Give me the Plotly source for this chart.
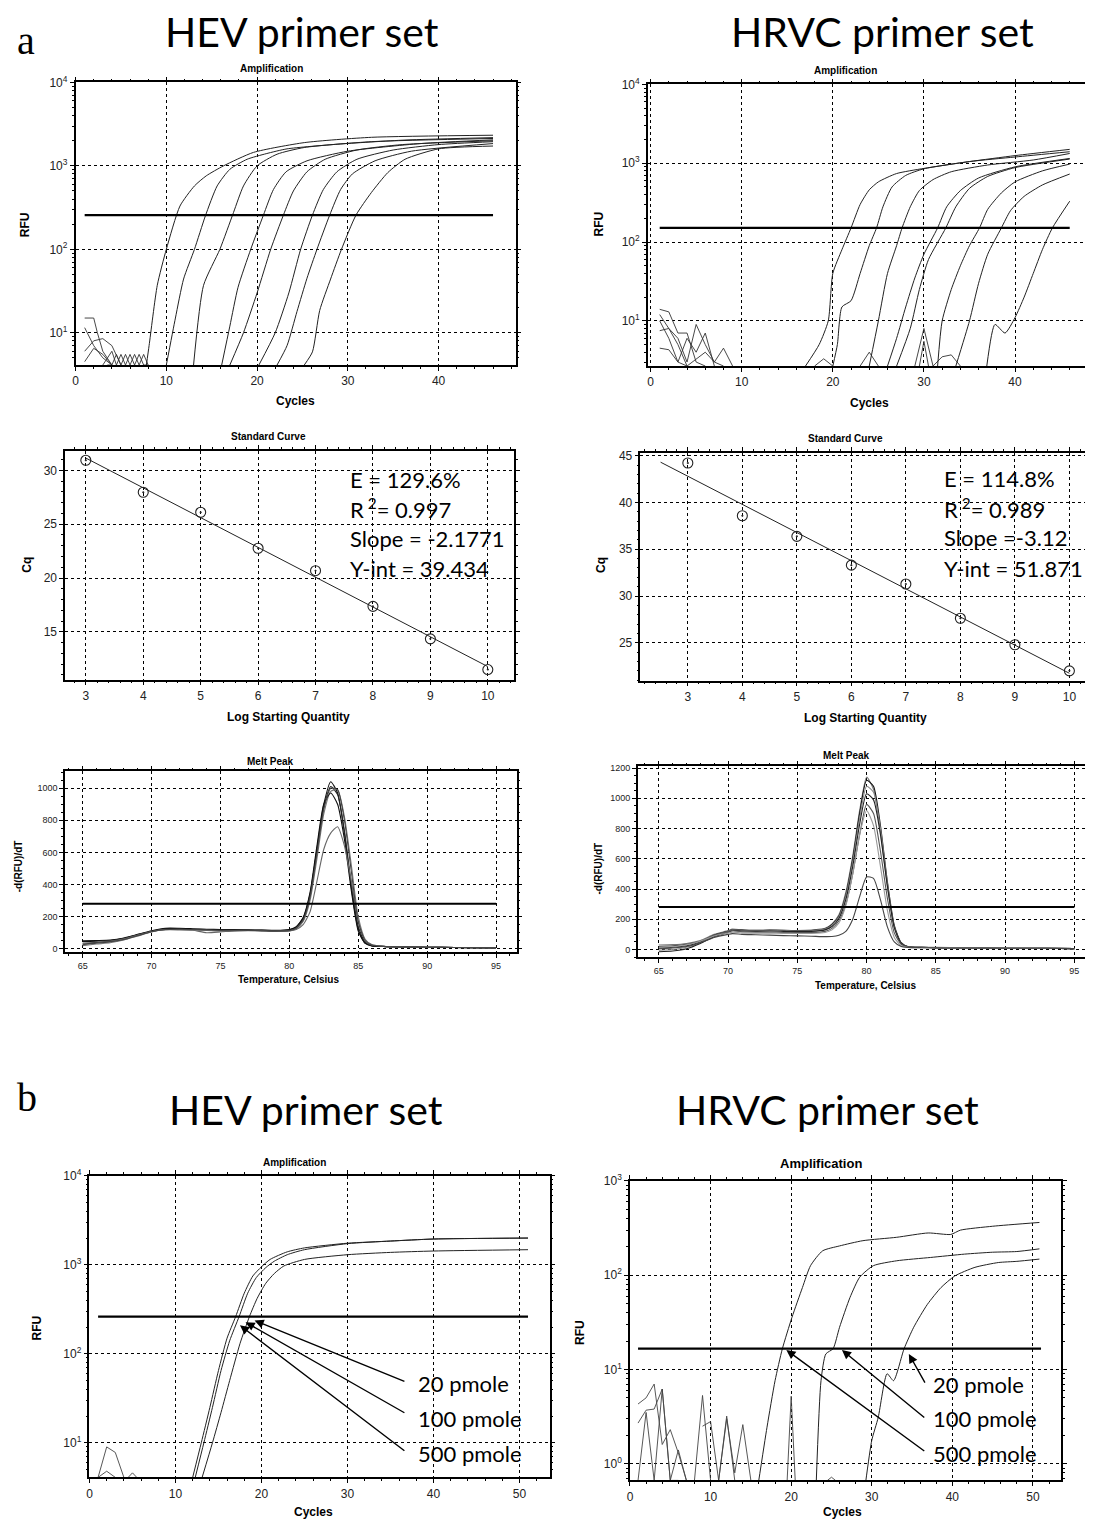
import numpy as np
import plotly.graph_objects as go

W, H = 1093, 1523
OFF = 8  # default page margin of the html body
FW, FH = W - OFF, H - OFF

# ================= DATA =================
# --- Panel a, HEV amplification (cycle, RFU) ---
HEV_A_X = [
    [7.8, 8.1, 9.0, 10.0, 11.5, 13.1, 14.4, 16.3, 19.6, 25.2, 32.6, 46.0],
    [10.0, 11.0, 11.9, 13.1, 14.3, 15.6, 17.0, 18.9, 21.0, 23.3, 28.9, 36.3, 46.0],
    [13.0, 14.1, 15.9, 17.4, 18.5, 20.0, 22.2, 25.2, 32.6, 46.0],
    [16.1, 17.0, 17.9, 19.3, 20.7, 21.8, 23.2, 25.5, 30.0, 38.0, 46.0],
    [17.0, 18.5, 20.0, 21.5, 22.9, 24.0, 25.5, 27.5, 31.0, 36.0, 46.0],
    [20.2, 22.0, 23.5, 24.8, 26.1, 27.3, 28.8, 31.0, 35.0, 40.0, 46.0],
    [22.2, 23.3, 24.4, 25.5, 26.6, 28.0, 29.2, 30.5, 33.0, 37.0, 46.0],
    [25.2, 26.1, 26.9, 28.1, 29.3, 30.9, 32.6, 34.4, 36.3, 40.0, 46.0],
]
HEV_A_Y = [
    [4.1, 7, 37, 100, 330, 575, 760, 1000, 1450, 1900, 2200, 2330],
    [4.1, 15, 44, 100, 251, 575, 910, 1200, 1400, 1600, 1820, 2040, 2180],
    [4.1, 37, 100, 276, 575, 1000, 1380, 1660, 1950, 2130],
    [4.1, 12, 35, 100, 257, 520, 850, 1150, 1500, 1850, 2050],
    [4.1, 10, 30, 100, 257, 500, 850, 1200, 1550, 1800, 2000],
    [4.1, 10, 30, 100, 257, 520, 850, 1200, 1550, 1800, 1950],
    [4.1, 7, 18, 45, 100, 257, 520, 800, 1150, 1500, 1850],
    [4.1, 5.9, 18.5, 44, 100, 257, 480, 830, 1200, 1600, 1730],
]
HEV_A_NOISE_X = [
    [1, 2, 2.4, 3, 4],
    [1, 2, 3, 4],
    [1, 2, 3, 4, 5],
    [1, 2, 3, 4],
    [3, 4, 4.5, 5, 5.5, 6, 6.5, 7, 7.5, 8],
    [3.5, 4, 4.5, 5, 5.5, 6, 6.5, 7, 7.5, 8],
]
HEV_A_NOISE_Y = [
    [15, 15, 10, 6, 4.1],
    [11.5, 7, 5, 4.1],
    [6, 8, 8.5, 7, 4.1],
    [4.5, 6.5, 5.5, 4.1],
    [4.1, 6, 4.1, 5.5, 4.1, 5.5, 4.1, 5.5, 4.1, 4.1],
    [4.1, 4.1, 5.5, 4.1, 5.5, 4.1, 5.5, 4.1, 5.5, 4.1],
]
HEV_A_THRESHOLD = 257
HEV_A_THR_RANGE = [1, 46]

# --- Panel a, HRVC amplification ---
HRVC_A_X = [
    [17.0, 18.5, 19.5, 20.0, 21.0, 22.0, 23.0, 24.0, 25.0, 27.0, 30.0, 35.0, 40.0, 46.0],
    [20.0, 20.5, 21.0, 22.0, 23.0, 24.0, 24.8, 25.5, 26.5, 28.0, 30.0, 35.0, 40.0, 46.0],
    [24.0, 25.0, 26.0, 27.0, 27.6, 28.5, 29.5, 31.0, 33.0, 37.0, 42.0, 46.0],
    [26.0, 27.0, 28.0, 29.0, 30.0, 31.5, 32.5, 34.0, 36.0, 40.0, 46.0],
    [27.0, 28.5, 29.5, 30.5, 32.4, 33.5, 35.0, 37.0, 40.0, 46.0],
    [31.5, 32.0, 33.0, 34.0, 35.0, 36.1, 37.0, 38.5, 40.0, 43.0, 46.0],
    [33.5, 35.0, 36.0, 37.0, 38.5, 39.5, 41.0, 43.0, 46.0],
    [36.9, 37.8, 38.9, 40.0, 41.0, 42.0, 43.0, 44.1, 46.0],
]
HRVC_A_Y = [
    [2.67, 5, 10, 40, 80, 151, 300, 460, 580, 740, 860, 1050, 1250, 1500],
    [2.67, 5, 15, 18, 40, 90, 151, 280, 500, 700, 850, 1050, 1200, 1400],
    [2.67, 10, 40, 90, 151, 280, 450, 620, 780, 950, 1100, 1330],
    [2.67, 6, 15, 35, 70, 151, 280, 450, 650, 900, 1150],
    [2.67, 8, 25, 60, 151, 280, 480, 680, 880, 1130],
    [2.67, 10, 25, 50, 90, 151, 260, 420, 580, 800, 975],
    [2.67, 10, 30, 70, 151, 250, 380, 530, 730],
    [2.67, 9, 7, 11, 20, 40, 80, 151, 330],
]
HRVC_A_NOISE_X = [
    [1, 2, 3, 4, 5, 6],
    [1, 2, 3, 4, 5, 6, 7, 8],
    [1, 2, 3, 4, 5, 6, 7],
    [1, 2, 3, 4],
    [1, 2, 3, 4, 6, 7, 8, 9],
    [29, 30, 31],
    [29.5, 30, 30.5],
    [23, 24, 25],
    [18, 19, 20],
    [31, 32, 33, 34],
]
HRVC_A_NOISE_Y = [
    [14, 13, 7, 7, 3, 2.67],
    [12, 8, 6, 3, 9, 5, 3, 2.67],
    [10, 6, 3, 6, 4, 7, 2.67],
    [7.5, 8, 5, 2.67],
    [4.5, 4.3, 3, 2.67, 4, 3, 4.5, 2.67],
    [2.67, 8, 2.67],
    [2.67, 5.5, 2.67],
    [2.67, 4, 2.67],
    [2.67, 3.3, 2.67],
    [2.67, 3.5, 3.7, 2.67],
]
HRVC_A_THRESHOLD = 151
HRVC_A_THR_RANGE = [1, 46]

# --- Standard curves ---
STD_LOGQ = [3, 4, 5, 6, 7, 8, 9, 10]
HEV_CQ = [30.93, 27.96, 26.1, 22.76, 20.68, 17.37, 14.35, 11.5]
HRVC_CQ = [44.22, 38.58, 36.38, 33.3, 31.28, 27.62, 24.79, 22.0]
HEV_FIT_RANGE = [3, 10]
HRVC_FIT_RANGE = [2.5, 10]
HEV_STATS = ["E = 129.6%", "R<sup> 2</sup>= 0.997", "Slope = -2.1771", "Y-int = 39.434"]
HRVC_STATS = ["E = 114.8%", "R<sup> 2</sup>= 0.989", "Slope =-3.12", "Y-int = 51.871"]

# --- Melt peaks ---
HEV_MELT_T = [65, 66, 67, 68, 69, 70, 71, 72, 73, 74, 75, 76, 77, 78, 79, 80, 80.5, 81, 81.5,
              82, 82.5, 83, 83.5, 84, 84.5, 85, 85.5, 86, 87, 88, 90, 92, 95]
HEV_MELT = [
    [45, 48, 52, 65, 88, 110, 125, 122, 120, 118, 118, 117, 116, 115, 113, 118, 135, 190, 340,
     620, 900, 1040, 970, 720, 380, 120, 35, 18, 14, 12, 10, 8, 6],
    [30, 35, 45, 60, 85, 108, 122, 125, 122, 120, 118, 116, 115, 115, 112, 116, 132, 185, 330,
     610, 880, 1010, 960, 730, 400, 140, 40, 20, 14, 12, 10, 8, 6],
    [20, 30, 38, 55, 80, 105, 120, 120, 118, 115, 110, 112, 114, 112, 110, 112, 125, 170, 300,
     560, 840, 980, 990, 820, 520, 200, 60, 25, 15, 12, 10, 8, 6],
    [50, 52, 55, 68, 90, 112, 128, 128, 125, 122, 120, 120, 118, 117, 115, 120, 138, 195, 350,
     640, 900, 970, 900, 680, 360, 110, 35, 18, 14, 12, 10, 8, 6],
    [35, 40, 48, 62, 86, 108, 118, 118, 116, 100, 105, 112, 113, 112, 110, 112, 120, 150, 230,
     420, 620, 720, 760, 640, 420, 170, 55, 25, 15, 12, 10, 8, 6],
    [25, 40, 45, 58, 82, 106, 120, 122, 120, 118, 115, 116, 115, 113, 110, 114, 128, 178, 320,
     590, 870, 1000, 990, 800, 480, 170, 50, 22, 15, 12, 10, 8, 6],
]
HEV_MELT_COLORS = ["#111", "#222", "#777", "#111", "#666", "#444"]
HEV_MELT_THRESHOLD = 280

HRVC_MELT_T = [65, 66, 67, 68, 69, 70, 70.3, 71, 72, 73, 74, 75, 76, 77, 77.5, 78, 78.5, 79, 79.5,
               80, 80.5, 81, 81.5, 82, 82.5, 83, 84, 85, 87, 90, 93, 95]
HRVC_MELT = [
    [30, 32, 40, 60, 100, 125, 135, 130, 128, 130, 128, 125, 128, 140, 170, 230, 380, 620, 920,
     1140, 1060, 780, 420, 150, 40, 18, 15, 15, 10, 8, 8, 6],
    [10, 15, 25, 50, 95, 120, 130, 128, 125, 127, 126, 124, 126, 138, 165, 220, 360, 600, 900,
     1120, 1080, 820, 450, 160, 45, 18, 14, 12, 10, 8, 8, 6],
    [-5, 0, 15, 45, 90, 118, 128, 125, 124, 125, 124, 122, 124, 135, 160, 215, 350, 580, 870,
     1080, 1040, 800, 440, 150, 40, 18, 14, 12, 10, 8, 8, 6],
    [-15, -10, 5, 40, 85, 112, 125, 122, 120, 122, 120, 118, 120, 130, 152, 205, 330, 550, 830,
     1030, 990, 760, 420, 145, 40, 18, 14, 12, 10, 8, 8, 6],
    [20, 25, 35, 55, 95, 120, 125, 118, 115, 115, 113, 112, 112, 120, 140, 190, 300, 500, 760,
     960, 900, 650, 340, 110, 35, 16, 13, 12, 10, 8, 8, 6],
    [15, 18, 30, 55, 90, 110, 115, 110, 108, 108, 107, 106, 106, 112, 130, 175, 290, 500, 760,
     920, 820, 550, 260, 80, 25, 14, 12, 12, 10, 8, 8, 6],
    [5, 10, 20, 45, 80, 100, 105, 100, 98, 95, 92, 90, 88, 85, 86, 95, 120, 200, 350,
     480, 470, 330, 150, 50, 20, 14, 12, 11, 10, 8, 8, 6],
]
HRVC_MELT_COLORS = ["#777", "#111", "#888", "#222", "#555", "#999", "#444"]
HRVC_MELT_THRESHOLD = 282

# --- Panel b, HEV amplification by primer amount ---
HEV_B_X = [
    [12.0, 13.0, 14.0, 15.0, 16.0, 17.0, 18.0, 19.0, 20.0, 21.0, 23.0, 25.0, 30.0, 35.0, 40.0, 51.0],
    [12.3, 13.3, 14.3, 15.3, 16.3, 17.4, 18.4, 19.4, 20.5, 21.5, 23.0, 25.0, 30.0, 35.0, 40.0, 51.0],
    [13.1, 14.3, 15.3, 16.3, 17.5, 18.6, 19.5, 20.5, 21.5, 22.6, 25.0, 30.0, 35.0, 40.0, 51.0],
]
HEV_B_Y = [
    [4.09, 10, 25, 65, 150, 262, 480, 750, 950, 1150, 1400, 1550, 1750, 1850, 1950, 2000],
    [4.09, 10, 25, 65, 140, 262, 480, 720, 930, 1100, 1300, 1480, 1730, 1850, 1950, 2000],
    [4.09, 10, 22, 50, 130, 262, 420, 620, 800, 970, 1150, 1300, 1380, 1430, 1480],
]
HEV_B_NOISE_X = [[1, 2, 3, 4], [1, 2, 3], [4.5, 5, 5.5]]
HEV_B_NOISE_Y = [[4.09, 9, 7.8, 4.09], [4.09, 4.8, 4.09], [4.09, 4.6, 4.09]]
HEV_B_THRESHOLD = 262
HEV_B_THR_RANGE = [1, 51]
HEV_B_LABELS = ["20 pmole", "100 pmole", "500 pmole"]
HEV_B_ARROW_TAIL = [(36.8, 48.3), (36.8, 21.3), (36.8, 7.9)]
HEV_B_ARROW_HEAD = [(19.2, 237), (18.15, 227), (17.5, 209)]
HEV_B_LABEL_POS = [(38.0, 46), (38.0, 19), (38.0, 7.6)]

# --- Panel b, HRVC amplification by primer amount ---
HRVC_B_X = [
    [15.9, 17.0, 18.0, 18.9, 20.1, 21.4, 22.4, 23.9, 26.0, 28.9, 33.1, 37.0, 39.8, 41.0, 45.0, 50.8],
    [23.1, 23.7, 24.3, 25.2, 26.0, 27.3, 28.5, 30.2, 33.1, 37.3, 41.5, 45.0, 48.0, 50.8],
    [29.2, 30.0, 30.8, 31.9, 32.7, 34.0, 35.2, 36.9, 38.6, 40.3, 42.8, 45.7, 48.0, 50.8],
]
HRVC_B_Y = [
    [0.6, 2.44, 7.6, 16.5, 35.7, 74, 126, 181, 204, 232, 252, 280, 270, 300, 330, 362],
    [0.6, 7.6, 14.6, 16.6, 28, 58, 95, 126, 142, 154, 167, 175, 178, 190],
    [0.6, 1.77, 3.1, 9, 7.6, 16.5, 28, 49, 74, 98, 121, 136, 140, 148],
]
HRVC_B_NOISE_X = [
    [1, 2, 3, 4, 5, 6, 7],
    [1, 2, 3, 4, 5, 6],
    [1, 2, 3, 4, 5, 6, 7],
    [8, 9, 10],
    [9, 10, 11],
    [11, 12, 13],
    [11, 12, 13, 14, 15],
    [19.5, 20, 20.5],
    [24.5, 25, 25.5],
]
HRVC_B_NOISE_Y = [
    [4.3, 5, 7, 1.6, 2.3, 1.3, 0.666],
    [2.7, 3.7, 3.8, 6.2, 0.666, 0.666],
    [0.666, 3.5, 0.666, 6.2, 0.666, 1.4, 0.666],
    [0.666, 5.3, 0.666],
    [2.5, 2.8, 0.666],
    [0.666, 3.2, 0.666],
    [0.666, 3.0, 0.8, 2.6, 0.666],
    [0.666, 5.2, 0.666],
    [0.666, 0.72, 0.666],
]
HRVC_B_THRESHOLD = 16.6
HRVC_B_THR_RANGE = [1, 51]
HRVC_B_LABELS = ["20 pmole", "100 pmole", "500 pmole"]
HRVC_B_ARROW_TAIL = [(36.7, 7.0), (36.7, 3.0), (36.7, 1.33)]
HRVC_B_ARROW_HEAD = [(34.6, 14.6), (26.3, 16.1), (19.4, 16.1)]
HRVC_B_LABEL_POS = [(37.3, 6.85), (37.3, 3.0), (37.3, 1.28)]


# ================= LAYOUT HELPERS =================
def px(x):
    return (x - OFF) / FW


def ycorr(y):
    # small empirical vertical calibration of the photographed page
    return (y - 6.5) / 0.9942


def py(y):
    return 1 - (ycorr(y) - OFF) / FH


# panel boxes in page pixels: left, right, top, bottom
BOXES = {
    1: (73, 516, 80, 363),
    2: (649, 1092, 82, 364),
    3: (62.5, 514.5, 449, 678),
    4: (641.5, 1092, 451, 679),
    5: (62.5, 517, 770, 951),
    6: (639, 1092, 765, 956),
    7: (87, 550, 1175, 1477),
    8: (631, 1065, 1180, 1480),
}

TICKFONT = dict(family="Liberation Sans, Arial", size=12, color="#222")
SMALLTICK = dict(family="Liberation Sans, Arial", size=9, color="#222")
LOG_MINOR = [m * 10 ** k for k in range(-1, 5) for m in range(2, 10)]


def minor(dt):
    return dict(dtick=dt, ticks="outside", ticklen=2, tickcolor="black", showgrid=False)


def base_axis(domain, rng, **kw):
    d = dict(
        domain=domain, range=rng, showline=True, linecolor="black", linewidth=1.5,
        mirror="allticks", ticks="outside", ticklen=4, tickcolor="black", tickwidth=1,
        showgrid=True, gridcolor="black", griddash="dot", gridwidth=1, zeroline=False,
        tickfont=TICKFONT, fixedrange=True,
    )
    d.update(kw)
    return d


def log_axis(domain, rng, decades, anchor):
    vals = [10 ** k for k in decades]
    text = ["10<sup>%d</sup>" % k for k in decades]
    return base_axis(domain, rng, type="log", tickmode="array", tickvals=vals, ticktext=text,
                     anchor=anchor,
                     minor=dict(tickmode="array", tickvals=LOG_MINOR, ticks="outside",
                                ticklen=2, tickcolor="black", showgrid=False))


def xd(i):
    l, r, t, b = BOXES[i]
    return [px(l), min(px(r), 0.999)]


def yd(i):
    l, r, t, b = BOXES[i]
    return [py(b), py(t)]


fig = go.Figure()
layout = {}
layout["xaxis"] = base_axis(xd(1), [0, 48.5], dtick=10, tick0=0, anchor="y", minor=minor(2))
layout["yaxis"] = log_axis(yd(1), [np.log10(4.1), 4], [1, 2, 3, 4], "x")
layout["xaxis2"] = base_axis(xd(2), [-0.3, 48.0], dtick=10, tick0=0, anchor="y2", minor=minor(2))
layout["yaxis2"] = log_axis(yd(2), [np.log10(2.67), 4], [1, 2, 3, 4], "x2")
layout["xaxis3"] = base_axis(xd(3), [2.64, 10.46], dtick=1, tick0=0, anchor="y3", minor=minor(0.2))
layout["yaxis3"] = base_axis(yd(3), [10.57, 31.8], dtick=5, tick0=0, anchor="x3", minor=minor(1))
layout["xaxis4"] = base_axis(xd(4), [2.13, 10.34], dtick=1, tick0=0, anchor="y4", minor=minor(0.2))
layout["yaxis4"] = base_axis(yd(4), [20.96, 45.3], dtick=5, tick0=0, anchor="x4", minor=minor(1))
layout["xaxis5"] = base_axis(xd(5), [63.73, 96.5], dtick=5, tick0=0, anchor="y5",
                             tickfont=SMALLTICK, minor=minor(1))
layout["yaxis5"] = base_axis(yd(5), [-20.7, 1104], dtick=200, tick0=0, anchor="x5",
                             tickfont=SMALLTICK, minor=minor(50))
layout["xaxis6"] = base_axis(xd(6), [63.49, 95.98], dtick=5, tick0=0, anchor="y6",
                             tickfont=SMALLTICK, minor=minor(1))
layout["yaxis6"] = base_axis(yd(6), [-50.6, 1211], dtick=200, tick0=0, anchor="x6",
                             tickfont=SMALLTICK, minor=minor(50))
layout["xaxis7"] = base_axis(xd(7), [0, 53.5], dtick=10, tick0=0, anchor="y7", minor=minor(2))
layout["yaxis7"] = log_axis(yd(7), [np.log10(4.09), 4], [1, 2, 3, 4], "x7")
layout["xaxis8"] = base_axis(xd(8), [0, 53.5], dtick=10, tick0=0, anchor="y8", minor=minor(2))
layout["yaxis8"] = log_axis(yd(8), [np.log10(0.666), 3], [0, 1, 2, 3], "x8")


def line(xs, ys, axn, color="#222", width=1.0, shape="spline"):
    xa = "x" if axn == 1 else "x%d" % axn
    ya = "y" if axn == 1 else "y%d" % axn
    ld = dict(color=color, width=width, shape=shape)
    if shape == "spline":
        ld["smoothing"] = 0.6
    fig.add_trace(go.Scatter(x=xs, y=ys, mode="lines", xaxis=xa, yaxis=ya, line=ld,
                             hoverinfo="skip", showlegend=False))


# ---- panel 1 ----
for xs, ys in zip(HEV_A_NOISE_X, HEV_A_NOISE_Y):
    line(xs, ys, 1, "#333", 0.9, "linear")
for xs, ys in zip(HEV_A_X, HEV_A_Y):
    line(xs, ys, 1, "#222", 1.0)
line(HEV_A_THR_RANGE, [HEV_A_THRESHOLD] * 2, 1, "black", 2.2, "linear")

# ---- panel 2 ----
for xs, ys in zip(HRVC_A_NOISE_X, HRVC_A_NOISE_Y):
    line(xs, ys, 2, "#333", 0.9, "linear")
for xs, ys in zip(HRVC_A_X, HRVC_A_Y):
    line(xs, ys, 2, "#222", 1.0)
line(HRVC_A_THR_RANGE, [HRVC_A_THRESHOLD] * 2, 2, "black", 2.2, "linear")

# ---- panels 3 / 4 : standard curves ----
for axn, cq, frange in [(3, HEV_CQ, HEV_FIT_RANGE), (4, HRVC_CQ, HRVC_FIT_RANGE)]:
    slope, icpt = np.polyfit(STD_LOGQ, cq, 1)
    fx = np.array(frange, dtype=float)
    line(fx, slope * fx + icpt, axn, "#222", 1.0, "linear")
    fig.add_trace(go.Scatter(x=STD_LOGQ, y=cq, mode="markers", xaxis="x%d" % axn, yaxis="y%d" % axn,
                             marker=dict(symbol="circle-open-dot", size=10, color="#222",
                                         line=dict(width=1.1, color="#222")),
                             hoverinfo="skip", showlegend=False))

# ---- panels 5 / 6 : melt peaks ----
for ys, c in zip(HEV_MELT, HEV_MELT_COLORS):
    line(HEV_MELT_T, ys, 5, c, 1.1)
line([65, 95], [HEV_MELT_THRESHOLD] * 2, 5, "black", 2.0, "linear")
for ys, c in zip(HRVC_MELT, HRVC_MELT_COLORS):
    line(HRVC_MELT_T, ys, 6, c, 1.1)
line([65, 95], [HRVC_MELT_THRESHOLD] * 2, 6, "black", 2.0, "linear")

# ---- panel 7 ----
for xs, ys in zip(HEV_B_NOISE_X, HEV_B_NOISE_Y):
    line(xs, ys, 7, "#444", 0.9, "linear")
for xs, ys in zip(HEV_B_X, HEV_B_Y):
    line(xs, ys, 7, "#222", 1.0)
line(HEV_B_THR_RANGE, [HEV_B_THRESHOLD] * 2, 7, "black", 2.2, "linear")

# ---- panel 8 ----
for xs, ys in zip(HRVC_B_NOISE_X, HRVC_B_NOISE_Y):
    line(xs, ys, 8, "#444", 0.9, "linear")
for xs, ys in zip(HRVC_B_X, HRVC_B_Y):
    line(xs, ys, 8, "#222", 1.0)
line(HRVC_B_THR_RANGE, [HRVC_B_THRESHOLD] * 2, 8, "black", 2.2, "linear")

# ================= ANNOTATIONS =================
ann = []
BIG = dict(family="Lato, Liberation Sans", size=41, color="black")
SERIF = dict(family="Liberation Serif, Times New Roman", size=40, color="black")
BOLD_SMALL = dict(family="Liberation Sans, Arial", size=10, color="black")
BOLD_MED = dict(family="Liberation Sans, Arial", size=12, color="black")
MELT_LBL = dict(family="Liberation Sans, Arial", size=10, color="black")
STAT = dict(family="Lato, Liberation Sans", size=22, color="black")


def pa(text, x, y, font, xanchor="center", yanchor="middle", angle=0):
    yy = min(py(y), 1.0)
    yy = max(yy, 9.0 / FH)
    ann.append(dict(text=text, x=px(x), y=yy, xref="paper", yref="paper", showarrow=False,
                    xanchor=xanchor, yanchor=yanchor, font=font, textangle=angle))


# big headers
ann.append(dict(text="a", x=px(23), y=1.0, xref="paper", yref="paper", showarrow=False,
                xanchor="center", yanchor="top", font=SERIF, borderpad=0))
pa("HEV primer set", 301, 29, BIG)
pa("HRVC primer set", 885, 29, BIG)
pa("b", 24, 1097, SERIF)
pa("HEV primer set", 305, 1109, BIG)
pa("HRVC primer set", 830, 1109, BIG)

# subplot titles
pa("<b>Amplification</b>", 270, 66, BOLD_SMALL)
pa("<b>Amplification</b>", 848, 68, BOLD_SMALL)
pa("<b>Standard Curve</b>", 267, 435, BOLD_SMALL)
pa("<b>Standard Curve</b>", 848, 437, BOLD_SMALL)
pa("<b>Melt Peak</b>", 269, 760, BOLD_SMALL)
pa("<b>Melt Peak</b>", 849, 754, BOLD_SMALL)
pa("<b>Amplification</b>", 293, 1162, BOLD_SMALL)
pa("<b>Amplification</b>", 823, 1163, dict(family="Liberation Sans, Arial", size=13, color="black"))

# axis titles
pa("<b>Cycles</b>", 294, 399, BOLD_MED)
pa("<b>RFU</b>", 22, 222, BOLD_MED, angle=-90)
pa("<b>Cycles</b>", 872, 401, BOLD_MED)
pa("<b>RFU</b>", 600, 222, BOLD_MED, angle=-90)
pa("<b>Log Starting Quantity</b>", 287, 715, BOLD_MED)
pa("<b>Cq</b>", 24, 563, BOLD_MED, angle=-90)
pa("<b>Log Starting Quantity</b>", 868, 716, BOLD_MED)
pa("<b>Cq</b>", 602, 563, BOLD_MED, angle=-90)
pa("<b>Temperature, Celsius</b>", 287, 978, MELT_LBL)
pa("<b>-d(RFU)/dT</b>", 15, 865, MELT_LBL, angle=-90)
pa("<b>Temperature, Celsius</b>", 868, 984, MELT_LBL)
pa("<b>-d(RFU)/dT</b>", 599, 867, MELT_LBL, angle=-90)
pa("<b>Cycles</b>", 312, 1513, BOLD_MED)
pa("<b>RFU</b>", 34, 1327, BOLD_MED, angle=-90)
pa("<b>Cycles</b>", 845, 1513, BOLD_MED)
pa("<b>RFU</b>", 580, 1332, BOLD_MED, angle=-90)

# standard curve statistics
for t, yy in zip(HEV_STATS, [478, 507, 537, 567]):
    pa(t, 347, yy, STAT, xanchor="left")
for t, yy in zip(HRVC_STATS, [477, 507, 536, 567]):
    pa(t, 945, yy, STAT, xanchor="left")

# arrows + labels in panel b
for axn, tails, heads, labels, lpos in [
    (7, HEV_B_ARROW_TAIL, HEV_B_ARROW_HEAD, HEV_B_LABELS, HEV_B_LABEL_POS),
    (8, HRVC_B_ARROW_TAIL, HRVC_B_ARROW_HEAD, HRVC_B_LABELS, HRVC_B_LABEL_POS),
]:
    xr, yr = "x%d" % axn, "y%d" % axn
    for (tx, ty), (hx, hy) in zip(tails, heads):
        ann.append(dict(x=hx, y=np.log10(hy), ax=tx, ay=np.log10(ty), xref=xr, yref=yr,
                        axref=xr, ayref=yr, text="", showarrow=True, arrowhead=2,
                        arrowsize=1.3, arrowwidth=1.4, arrowcolor="black", standoff=0))
    for t, (lx, ly) in zip(labels, lpos):
        ann.append(dict(x=lx, y=np.log10(ly), xref=xr, yref=yr, text=t, showarrow=False,
                        xanchor="left", yanchor="middle", font=STAT))

fig.update_layout(
    **layout,
    annotations=ann,
    width=FW, height=FH,
    margin=dict(l=0, r=0, t=0, b=0),
    paper_bgcolor="white", plot_bgcolor="white",
    showlegend=False,
)

fig.write_html("out.html")
